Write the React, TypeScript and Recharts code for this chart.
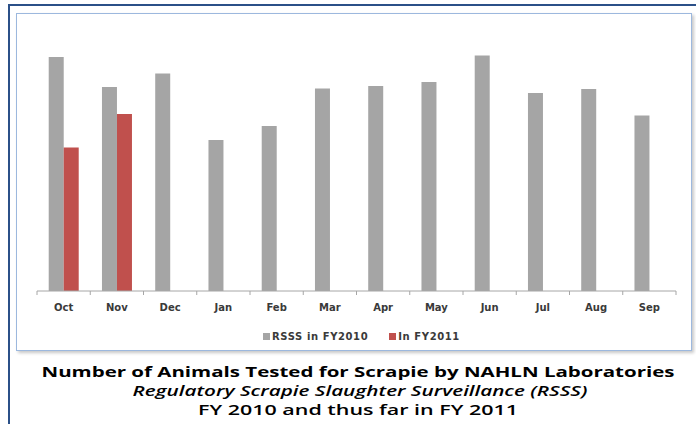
import React from "react";
import { BarChart, Bar, XAxis, YAxis } from "recharts";

const months = ["Oct", "Nov", "Dec", "Jan", "Feb", "Mar", "Apr", "May", "Jun", "Jul", "Aug", "Sep"];
const rsssFY2010 = [2340, 2040, 2175, 1510, 1650, 2025, 2050, 2090, 2355, 1980, 2020, 1755];
const inFY2011: (number | null)[] = [1435, 1770, null, null, null, null, null, null, null, null, null, null];
const seriesNames = ["RSSS in FY2010", "In FY2011"];
const seriesColors = ["#a5a5a5", "#c0504d"];
const titleLines = [
  "Number of Animals Tested for Scrapie by NAHLN Laboratories",
  "Regulatory Scrapie Slaughter Surveillance (RSSS)",
  "FY 2010 and thus far in FY 2011",
];

const data = months.map((m, i) => ({ month: m, a: rsssFY2010[i], b: inFY2011[i] }));

const FONT = "'DejaVu Sans', Verdana, sans-serif";
const TICK_MARGIN = 13;

const MonthTick = (props: any) => {
  const { x, y, payload, index, visibleTicksCount } = props;
  const half = payload && payload.offset ? payload.offset : 26.6;
  const axisY = y - TICK_MARGIN;
  const last = index === (visibleTicksCount ?? months.length) - 1;
  return (
    <g>
      <line x1={x - half} x2={x - half} y1={axisY} y2={axisY + 4} stroke="#a6a6a6" />
      {last && <line x1={x + half} x2={x + half} y1={axisY} y2={axisY + 4} stroke="#a6a6a6" />}
      <text x={x} y={y} dy="0.71em" textAnchor="middle" fontFamily={FONT} fontWeight="bold" fontSize={10} fill="#3a3a3a">
        {payload.value}
      </text>
    </g>
  );
};

export default function App() {
  return (
    <div style={{ position: "absolute", left: 0, top: 0, width: 696, height: 424, overflow: "hidden", background: "#fff" }}>
      <div style={{ position: "absolute", left: 8, top: 4, width: 720, height: 440, border: "2px solid #2b5088", boxSizing: "border-box" }} />
      <div style={{ position: "absolute", left: 16, top: 13, width: 676, height: 338, border: "1px solid #9cb8de", boxSizing: "border-box", boxShadow: "2px 2px 3px rgba(0,0,0,0.22)", background: "#fff" }} />
      <div style={{ position: "absolute", left: 0, top: 0 }}>
        <BarChart width={696} height={352} data={data} margin={{ top: 41, right: 20, bottom: 31, left: 37 }} barCategoryGap="22%" barGap={0}>
          <XAxis dataKey="month" axisLine={{ stroke: "#a6a6a6" }} tickLine={false} tickSize={0} tickMargin={TICK_MARGIN} height={30}
            tick={<MonthTick />} interval={0} />
          <YAxis hide domain={[0, 2500]} />
          <Bar dataKey="a" name={seriesNames[0]} fill={seriesColors[0]} isAnimationActive={false} />
          <Bar dataKey="b" name={seriesNames[1]} fill={seriesColors[1]} isAnimationActive={false} />
        </BarChart>
      </div>
      <div style={{ position: "absolute", top: 331, left: 263, display: "flex", alignItems: "center", fontFamily: FONT, fontWeight: "bold", fontSize: 10, letterSpacing: 0.6, color: "#3a3a3a" }}>
        {seriesNames.map((n, i) => (
          <span key={n} style={{ display: "flex", alignItems: "center", marginRight: i === 0 ? 21 : 0 }}>
            <span style={{ display: "inline-block", width: 7, height: 7, background: seriesColors[i], marginRight: 2 }} />
            {n}
          </span>
        ))}
      </div>
      <svg width={696} height={424} style={{ position: "absolute", left: 0, top: 0 }}>
        <text x={358} y={377} textAnchor="middle" textLength={633} lengthAdjust="spacingAndGlyphs" fontFamily="'Open Sans', sans-serif" fontWeight={700} fontSize={14.5} fill="#000">{titleLines[0]}</text>
        <text x={360} y={396} textAnchor="middle" textLength={455} lengthAdjust="spacingAndGlyphs" fontFamily="'Open Sans', sans-serif" fontStyle="italic" fontWeight={600} fontSize={14.5} fill="#000">{titleLines[1]}</text>
        <text x={358} y={415} textAnchor="middle" textLength={320} lengthAdjust="spacingAndGlyphs" fontFamily="'Open Sans', sans-serif" fontWeight={600} fontSize={14.5} fill="#000">{titleLines[2]}</text>
      </svg>
    </div>
  );
}
